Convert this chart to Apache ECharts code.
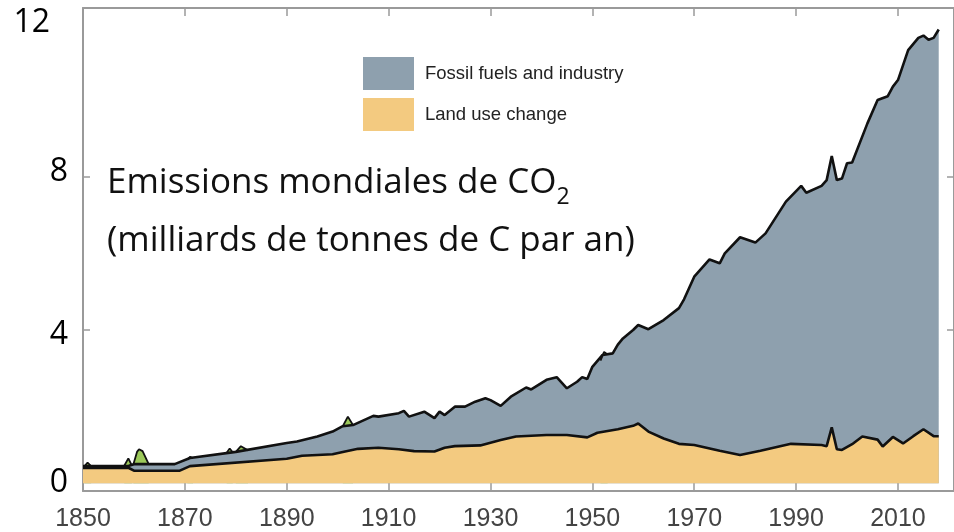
<!DOCTYPE html>
<html>
<head>
<meta charset="utf-8">
<script src="https://cdn.jsdelivr.net/npm/echarts@6/dist/echarts.min.js"></script>
<style>html,body{margin:0;padding:0;background:#fff;}#chart{width:954px;height:532px;}</style>
</head>
<body>
<div id="chart"></div>
<script>
// x tick labels (years) and y tick labels
const xTickYears = [1850, 1870, 1890, 1910, 1930, 1950, 1970, 1990, 2010];
const yTickValues = [0, 4, 8, 12];

// Upper edge of the stacked areas (fossil fuels and industry + land use change), GtC/yr
const totalYears = [1850,1859,1860,1868,1871,1880,1890,1892,1896,1899,1901,1903,1907,1908,1912,1913,1914,1917,1919,1920,1921,1923,1925,1927,1929,1930,1932,1934,1937,1938,1941,1943,1945,1947,1948,1949,1950,1952,1954,1955,1956,1958,1959,1961,1964,1967,1968,1970,1973,1975,1976,1979,1982,1984,1988,1991,1992,1995,1996,1997,1998,1999,2000,2001,2004,2006,2008,2009,2010,2012,2014,2015,2016,2017,2018];
const totalTop   = [0.45,0.46,0.50,0.50,0.66,0.82,1.05,1.09,1.22,1.35,1.49,1.52,1.76,1.74,1.83,1.89,1.74,1.87,1.70,1.87,1.78,2.00,2.00,2.13,2.22,2.17,2.02,2.26,2.50,2.45,2.70,2.77,2.48,2.65,2.77,2.72,3.04,3.35,3.39,3.62,3.78,4.00,4.13,4.02,4.26,4.57,4.80,5.39,5.84,5.74,6.00,6.42,6.28,6.52,7.35,7.76,7.58,7.76,7.91,8.54,7.91,7.95,8.35,8.37,9.39,10.00,10.10,10.35,10.52,11.30,11.62,11.68,11.57,11.62,11.84];

// Land use change, GtC/yr
const landYears = [1850,1859,1860,1869,1871,1890,1893,1899,1901,1904,1908,1912,1915,1919,1921,1923,1928,1932,1935,1941,1945,1949,1951,1955,1958,1959,1961,1964,1967,1970,1975,1979,1983,1989,1995,1996,1997,1998,1999,2001,2003,2006,2007,2009,2011,2013,2015,2017,2018];
const landTop   = [0.40,0.40,0.33,0.33,0.45,0.64,0.72,0.76,0.82,0.90,0.93,0.89,0.84,0.83,0.93,0.97,0.99,1.13,1.22,1.26,1.26,1.20,1.32,1.41,1.50,1.56,1.35,1.17,1.03,1.00,0.85,0.74,0.85,1.03,1.00,0.97,1.46,0.89,0.87,1.02,1.22,1.14,0.96,1.21,1.04,1.23,1.41,1.23,1.23];

// Small green peaks above the upper edge (null separates peaks)
const peakYears  = [1850.3,1850.9,1851.6, null, 1858.1,1858.9,1859.6, null, 1859.9,1860.6,1861.0,1861.7,1862.9, null, 1870.5,1871.0,1871.6, null, 1878.2,1878.8,1879.4, null, 1880.0,1881.0,1882.4, null, 1901.0,1902.0,1903.0, null, 1951.6,1952.3,1953.0];
const peakValues = [0.45,0.54,0.45, null, 0.46,0.65,0.46, null, 0.50,0.82,0.89,0.84,0.50, null, 0.62,0.69,0.66, null, 0.80,0.91,0.81, null, 0.82,0.97,0.86, null, 1.49,1.74,1.52, null, 3.20,3.43,3.36];

const pairs = (xs, ys) => xs.map((x, i) => (x === null ? [null, null] : [x, ys[i]]));

const chart = echarts.init(document.getElementById('chart'), null, {renderer: 'canvas'});
const axisGray = '#9a9a9a';
const yRich = {
  t0: {}, t4: {padding: [10, 0, 0, 0]}, t8: {padding: [0, 0, 10, 0]}, t12: {padding: [0, 18, 0, 0]}
};
chart.setOption({
  animation: false,
  backgroundColor: '#ffffff',
  title: {
    text: 'Emissions mondiales de CO{sub|2}\n(milliards de tonnes de C par an)',
    left: 107, top: 154, padding: 0,
    textStyle: {
      fontFamily: 'Open Sans', fontSize: 35, fontWeight: 'normal', color: '#111', lineHeight: 58,
      rich: {sub: {fontFamily: 'Open Sans', fontSize: 23, color: '#111', lineHeight: 23, padding: [28, 0, 0, 0]}}
    }
  },
  legend: {
    orient: 'vertical', left: 363, top: 57, padding: 0,
    itemWidth: 51, itemHeight: 33, itemGap: 8,
    icon: 'rect',
    data: ['Fossil fuels and industry', 'Land use change'],
    itemStyle: {borderWidth: 0},
    textStyle: {fontFamily: 'Liberation Sans', fontSize: 18.5, color: '#222', padding: [0, 0, 0, 6]}
  },
  grid: {left: 83, right: -1, top: 8, bottom: 41, containLabel: false},
  xAxis: [{
    type: 'value', min: 1850, max: 2021, position: 'bottom',
    axisLine: {show: true, onZero: false, lineStyle: {color: axisGray, width: 2}},
    axisTick: {show: true, inside: true, length: 8, lineStyle: {color: axisGray, width: 1.5}, customValues: xTickYears.slice(1)},
    axisLabel: {show: true, customValues: xTickYears, margin: 16, fontFamily: 'Liberation Sans', fontSize: 25, color: '#444', formatter: v => String(v)},
    splitLine: {show: false}
  }, {
    type: 'value', min: 1850, max: 2021, position: 'top',
    axisLine: {show: true, onZero: false, lineStyle: {color: axisGray, width: 2}},
    axisTick: {show: true, inside: true, length: 8, lineStyle: {color: axisGray, width: 1.5}, customValues: xTickYears.slice(1)},
    axisLabel: {show: false},
    splitLine: {show: false}
  }],
  yAxis: [{
    type: 'value', min: -0.2, max: 12.4, position: 'left',
    axisLine: {show: true, onZero: false, lineStyle: {color: axisGray, width: 2}},
    axisTick: {show: true, inside: true, length: 7, lineStyle: {color: axisGray, width: 1.5}, customValues: [4, 8]},
    axisLabel: {
      show: true, customValues: yTickValues, margin: 15, fontFamily: 'Open Sans', fontSize: 32, color: '#000',
      formatter: v => '{t' + v + '|' + v + '}', rich: yRich
    },
    splitLine: {show: false}
  }, {
    type: 'value', min: -0.2, max: 12.4, position: 'right',
    axisLine: {show: true, onZero: false, lineStyle: {color: axisGray, width: 2}},
    axisTick: {show: true, inside: true, length: 7, lineStyle: {color: axisGray, width: 1.5}, customValues: [4, 8]},
    axisLabel: {show: false},
    splitLine: {show: false}
  }],
  series: [{
    name: 'peaks', type: 'line', data: pairs(peakYears, peakValues),
    symbol: 'none', connectNulls: false, silent: true,
    lineStyle: {color: '#111', width: 1.8},
    itemStyle: {color: '#9cc95a'},
    areaStyle: {color: '#9cc95a', opacity: 1}
  }, {
    name: 'Fossil fuels and industry', type: 'line', data: pairs(totalYears, totalTop),
    symbol: 'none',
    lineStyle: {color: '#111', width: 2.6},
    itemStyle: {color: '#8ea0ae'},
    areaStyle: {color: '#8ea0ae', opacity: 1}
  }, {
    name: 'Land use change', type: 'line', data: pairs(landYears, landTop),
    symbol: 'none',
    lineStyle: {color: '#111', width: 2.6},
    itemStyle: {color: '#f3ca80'},
    areaStyle: {color: '#f3ca80', opacity: 1}
  }]
});
</script>
</body>
</html>
